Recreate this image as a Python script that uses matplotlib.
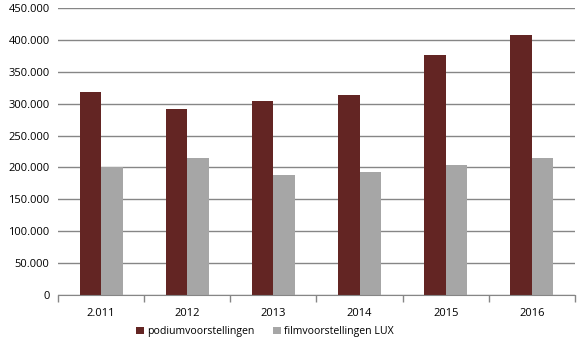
import numpy as np
import matplotlib.pyplot as plt
from matplotlib.ticker import FuncFormatter, FixedLocator

# Data
years = ['2.011', '2012', '2013', '2014', '2015', '2016']
podium = [318000, 292000, 304000, 314000, 376000, 408000]
film = [200000, 215000, 188000, 193000, 204000, 215000]

plt.rcParams['font.family'] = ['Open Sans', 'DejaVu Sans']

fig = plt.figure(figsize=(5.78, 3.51), dpi=100)
ax = fig.add_axes([58 / 578, 56 / 351, 517 / 578, 287 / 351])

x = np.arange(len(years))
w = 0.25
ax.bar(x - w / 2, podium, w, color='#632523', label='podiumvoorstellingen', zorder=3)
ax.bar(x + w / 2, film, w, color='#A6A6A6', label='filmvoorstellingen LUX', zorder=3)

ax.set_xlim(-0.5, len(years) - 0.5)
ax.set_ylim(0, 450000)
ax.set_yticks(np.arange(0, 450001, 50000))
ax.yaxis.set_major_formatter(FuncFormatter(lambda v, p: f'{int(v):,}'.replace(',', '.')))
ax.grid(axis='y', color='#868686', linewidth=1, zorder=0)

# category labels with boundary ticks
ax.set_xticks(x)
ax.set_xticklabels(years)
ax.tick_params(axis='x', which='major', length=0, pad=9, labelsize=8)
ax.xaxis.set_minor_locator(FixedLocator(np.arange(-0.5, len(years), 1)))
ax.tick_params(axis='x', which='minor', length=5, color='#868686', width=1)
ax.tick_params(axis='y', length=0, pad=6, labelsize=8)

for s in ['top', 'right', 'left']:
    ax.spines[s].set_visible(False)
ax.spines['bottom'].set_color('#868686')
ax.spines['bottom'].set_zorder(4)

ax.legend(loc='upper center', bbox_to_anchor=(0.40, -0.075), ncol=2, frameon=False,
          fontsize=7.6, handlelength=0.7, handleheight=0.7, handletextpad=0.3,
          columnspacing=1.8)

fig.savefig('out.png', dpi=100)
